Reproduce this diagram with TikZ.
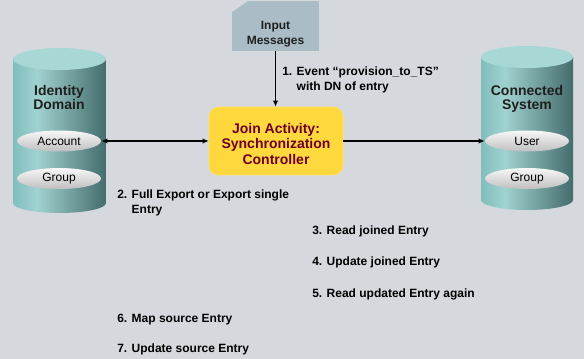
\documentclass[tikz,border=0pt]{standalone}
\usepackage{fontspec}
\setmainfont{Liberation Sans}
\usetikzlibrary{arrows.meta,positioning,shapes.geometric}

\definecolor{bgcol}{RGB}{213,217,222}
\definecolor{msgcol}{RGB}{170,189,199}
\definecolor{cyltop}{RGB}{168,216,214}
\definecolor{cyllight}{RGB}{160,210,208}
\definecolor{cylmid}{RGB}{128,190,188}
\definecolor{cyldark}{RGB}{68,108,108}
\definecolor{joinfill}{RGB}{255,216,62}
\definecolor{jointext}{RGB}{110,0,40}

\pgfdeclarehorizontalshading{cylbody}{100bp}{color(0bp)=(cylmid); color(25bp)=(cylmid);
  color(38bp)=(cyllight); color(75bp)=(cyldark); color(100bp)=(cyldark)}

\begin{document}
\begin{tikzpicture}[x=0.75pt, y=-0.75pt,
    lbl/.style={anchor=base west, inner sep=0pt, align=left,
                font=\fontsize{9}{11.25}\selectfont\bfseries},
    dbtitle/.style={align=center, inner sep=0pt, text=black!88,
                    font=\fontsize{10.5}{10.5}\selectfont\bfseries},
    entity/.style={ellipse, draw=none, top color=white!94!gray, bottom color=gray!50,
                   minimum width=63pt, minimum height=15.75pt, inner sep=0pt,
                   font=\fontsize{9}{11}\selectfont},
    msgbox/.style={rectangle, fill=msgcol, minimum width=65.25pt, minimum height=37.5pt,
                   inner sep=0pt, text height=29pt, align=center, text=black!88,
                   font=\fontsize{9}{11.25}\selectfont\bfseries,
                   path picture={\fill[bgcol] (path picture bounding box.north west)
                     -- ++(12pt,0) -- ++(-12pt,-8.25pt) -- cycle;}},
    arrow/.style={-{Latex[length=4.5pt, width=4pt]}, line width=1.1pt},
  ]

  \fill[bgcol] (0,0) rectangle (584,359);
  \useasboundingbox (0,0) rectangle (584,359);

  % left data store
  \path[shading=cylbody] (13,59) -- (13,203)
    arc[start angle=180, end angle=360, x radius=34.9pt, y radius=7.5pt] -- (106,59) -- cycle;
  \fill[cyltop] (59.5,59) ellipse[x radius=34.9pt, y radius=8.25pt];

  % right data store
  \path[shading=cylbody] (481,57) -- (481,200)
    arc[start angle=180, end angle=360, x radius=34.5pt, y radius=7.5pt] -- (573,57) -- cycle;
  \fill[cyltop] (527,57) ellipse[x radius=34.5pt, y radius=8.25pt];

  \node[dbtitle] (idtitle) at (59,97.5) {Identity\\Domain};
  \node[dbtitle] (cstitle) at (527,98.5) {Connected\\System};

  \node[entity] (idacc) at (59,141) {Account};
  \node[entity, below=12pt of idacc] (idgrp) {Group};
  \node[entity] (csuser) at (527,141) {User};
  \node[entity, below=12pt of csuser] (csgrp) {Group};

  \node[msgbox] (input) at (275.5,26) {Input\\Messages};

  \node[rectangle, rounded corners=7pt, fill=joinfill, draw=joinfill!75!white,
        minimum width=100.5pt, minimum height=51pt, align=center, text height=35pt,
        font=\fontsize{10.5}{11.6}\selectfont\bfseries, text=jointext]
      (join) at (276,141) {Join Activity:\\Synchronization\\Controller};

  % Event: messages -> controller
  \draw[arrow] (input) -- (input |- join.north);
  % Export: identity domain <-> controller
  \draw[arrow, {Latex[length=4.5pt, width=4pt]}-{Latex[length=4.5pt, width=4pt]}] (idacc) -- (join);
  % Provision: controller -> connected system
  \draw[arrow] (join) -- (csuser);

  \node[lbl] (step1) at (282,91) {1. Event “provision\_to\_TS”\\\phantom{1. }with DN of entry};
  \node[lbl] (step2) at (117,214) {2. Full Export or Export single\\\phantom{2. }Entry};
  \node[lbl] (step3) at (312,235) {3. Read joined Entry};
  \node[lbl] (step4) at (312,266) {4. Update joined Entry};
  \node[lbl] (step5) at (312,297) {5. Read updated Entry again};
  \node[lbl] (step6) at (117,322) {6. Map source Entry};
  \node[lbl] (step7) at (117,352) {7. Update source Entry};

\end{tikzpicture}
\end{document}
